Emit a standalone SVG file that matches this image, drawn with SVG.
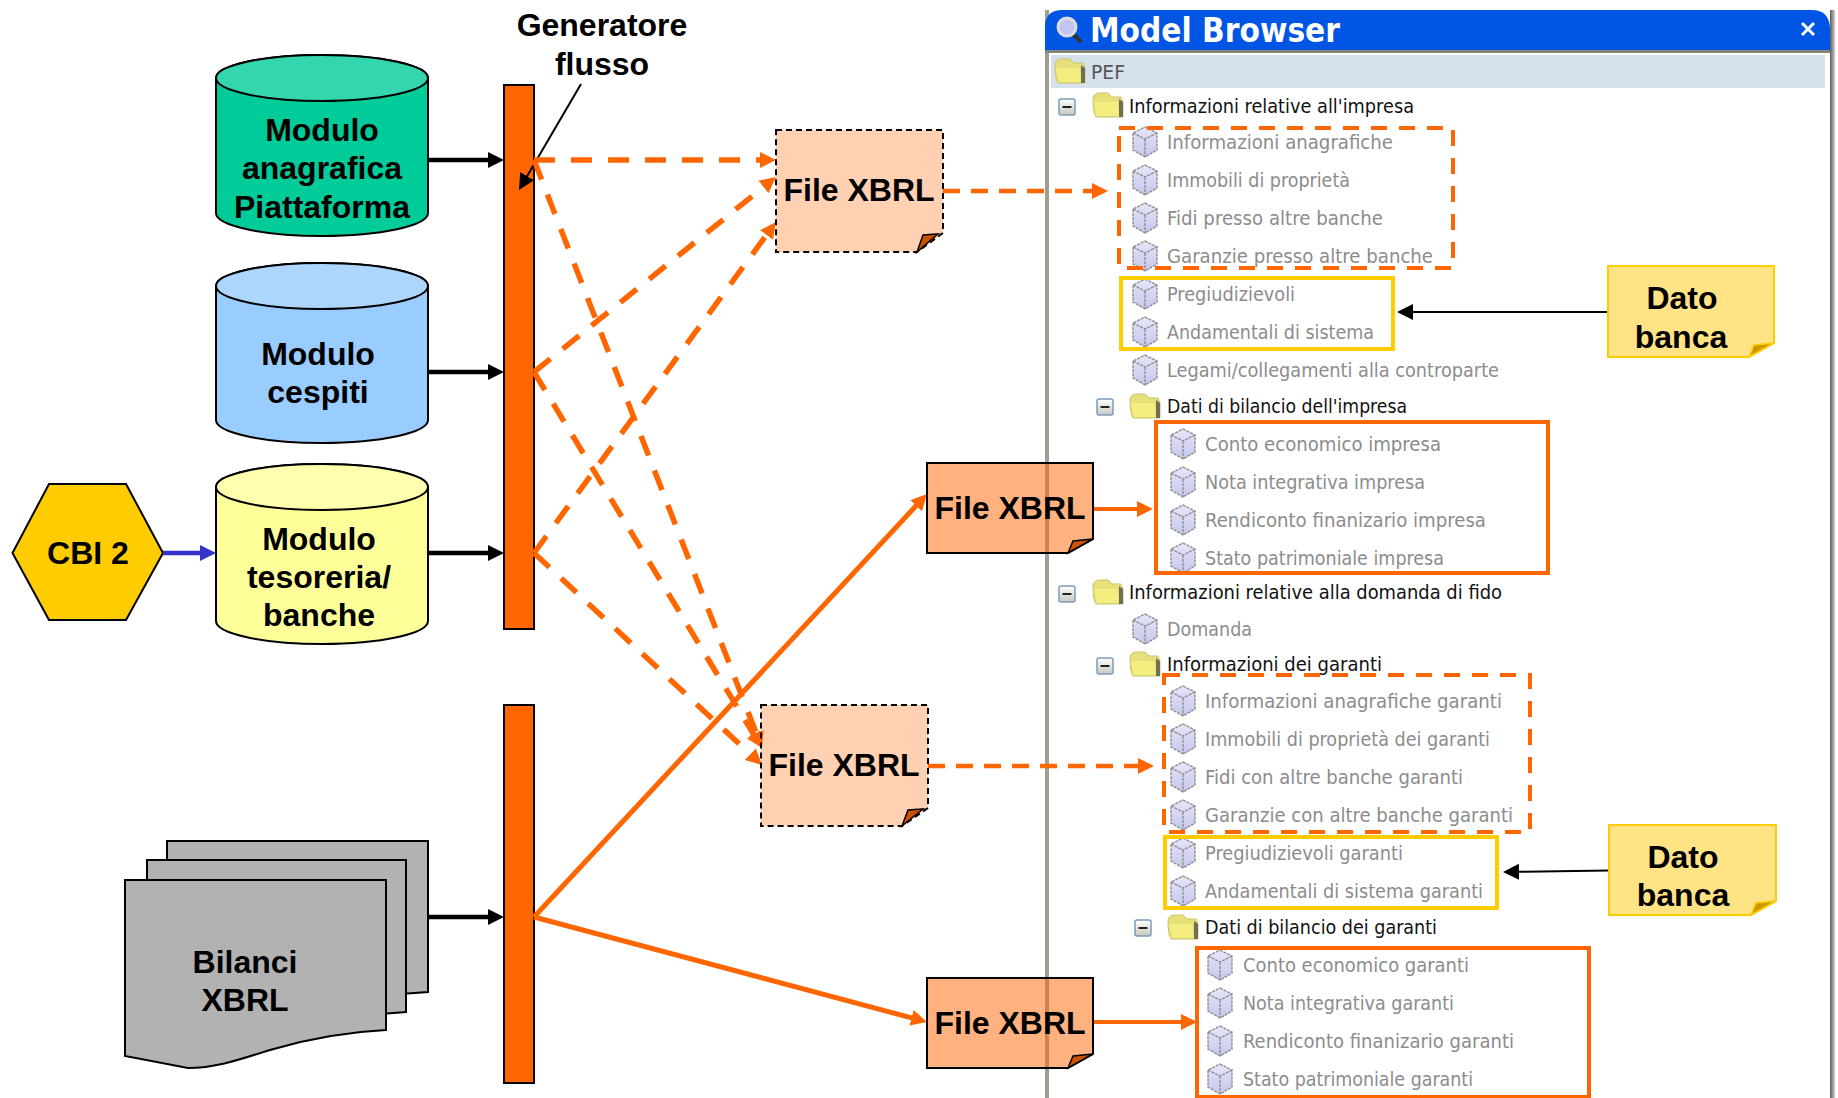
<svg xmlns="http://www.w3.org/2000/svg" width="1838" height="1098" viewBox="0 0 1838 1098">
<style>
.b{font:bold 32px "Liberation Sans",Arial,sans-serif;fill:#000;text-anchor:middle}
.t{font:20px "DejaVu Sans Condensed","DejaVu Sans",sans-serif;fill:#8c8c8c}
.k{fill:#111}
.s{stroke:#000;stroke-width:2}
.or{fill:none;stroke:#FF6600;stroke-width:5.5;stroke-dasharray:21 16}
.os{fill:none;stroke:#FF6600}
.ar{fill:none;stroke:#000;stroke-width:4.5}
.bar{fill:#FF6600;stroke:#000;stroke-width:2}
.fd{fill:#FF6600;fill-opacity:.3;stroke:#000;stroke-width:2;stroke-dasharray:6 4}
.fs{fill:#FF6600;fill-opacity:.5;stroke:#000;stroke-width:2}
.fold{fill:#CC5200;stroke:#000;stroke-width:1.5}
.db{fill:#FFE384;stroke:#FFCC00;stroke-width:2}
.dbf{fill:#CC9900;stroke:#FFCC00;stroke-width:1.5}
.dash{fill:none;stroke:#FF6600;stroke-width:4;stroke-dasharray:16 12}
.sol{fill:none;stroke:#FF6600;stroke-width:4}
.yel{fill:none;stroke:#FFCC00;stroke-width:4}
</style>
<defs>
<marker id="mo" markerUnits="userSpaceOnUse" markerWidth="17" markerHeight="17" refX="1" refY="8.5" orient="auto"><path d="M0,0.5 L16,8.5 L0,16.5Z" fill="#FF6600"/></marker>
<marker id="mk" markerUnits="userSpaceOnUse" markerWidth="17" markerHeight="17" refX="1" refY="8.5" orient="auto"><path d="M0,0.5 L16,8.5 L0,16.5Z" fill="#000"/></marker>
<marker id="mb" markerUnits="userSpaceOnUse" markerWidth="17" markerHeight="17" refX="1" refY="8.5" orient="auto"><path d="M0,0.5 L16,8.5 L0,16.5Z" fill="#3333CC"/></marker>
<linearGradient id="cg" x1="0" y1="0" x2="0" y2="1"><stop offset="0" stop-color="#E6E6FA"/><stop offset="1" stop-color="#C6C6EC"/></linearGradient>
<linearGradient id="mg" x1="0" y1="0" x2="0" y2="1"><stop offset="0" stop-color="#FFFFFF"/><stop offset="1" stop-color="#C8C8C0"/></linearGradient>
<linearGradient id="rg" x1="0" y1="0" x2="1" y2="0"><stop offset="0" stop-color="#5a5a5a"/><stop offset="1" stop-color="#d0d0d0"/></linearGradient>
<g id="cube" fill="none" stroke="#8f8f8f" stroke-width="1.4" stroke-dasharray="3 1">
<path d="M0,-15 L12,-9 V8 L0,15 L-12,8 V-9Z" fill="url(#cg)"/>
<path d="M-12,-9 L0,-3 L12,-9 M0,-3 V15"/>
</g>
<g id="folder">
<path d="M-15,-7 Q-14,-12 -8,-12 H0 L4,-8 H13 L15,-3 V12 H-12 Q-15,8 -15,-7Z" fill="#E6E07A" stroke="#C9C46A" stroke-width="1"/>
<path d="M-14,-3 H9 L11,11 H-11Z" fill="#F4EE80"/>
<path d="M11,-6 L15,-3 V12 H11Z" fill="#6f6f58"/>
</g>
<g id="minus">
<rect x="-8" y="-8" width="16" height="16" rx="2" fill="url(#mg)" stroke="#7C9CBC" stroke-width="1.5"/>
<path d="M-4.500,0 H4.500" stroke="#222" stroke-width="2"/>
</g>
</defs>
<rect width="1838" height="1098" fill="#fff"/>

<g id="model-browser">
<rect x="1045" y="10" width="4" height="1088" fill="#A09E90"/>
<rect x="1830" y="10" width="5" height="1088" fill="url(#rg)"/>
<path d="M1045,50 V24 Q1047,10 1062,10 H1812 Q1829,10 1830,28 V50Z" fill="#0055E5"/>
<rect x="1045" y="50" width="785" height="3" fill="#85857a"/>
<rect x="1051" y="55" width="774" height="33" fill="#D7E1ED"/>
<g id="magnifier"><path d="M1073,34 L1081,42" stroke="#333" stroke-width="4"/><circle cx="1067" cy="27" r="9" fill="#C4C4F0" stroke="#DDD" stroke-width="3"/></g>
<text x="1090" y="42" textLength="250" lengthAdjust="spacingAndGlyphs" style="font:bold 34px 'DejaVu Sans Condensed','DejaVu Sans',sans-serif;fill:#fff">Model Browser</text>
<path d="M1802,23 L1814,35 M1814,23 L1802,35" stroke="#fff" stroke-width="3" fill="none"/>
</g>

<g id="tree">
<g id="n-pef"><use href="#folder" x="1070" y="71"/><text class="t" x="1091" y="79" textLength="34" lengthAdjust="spacingAndGlyphs" style="fill:#555">PEF</text></g>
<g id="n-imp"><use href="#minus" x="1067" y="107"/><use href="#folder" x="1108" y="105"/><text class="t k" x="1129" y="113" textLength="285" lengthAdjust="spacingAndGlyphs">Informazioni relative all'impresa</text></g>
<g id="n1"><use href="#cube" x="1145" y="142"/><text class="t" x="1167" y="149" textLength="226" lengthAdjust="spacingAndGlyphs">Informazioni anagrafiche</text></g>
<g id="n2"><use href="#cube" x="1145" y="180"/><text class="t" x="1167" y="187" textLength="183" lengthAdjust="spacingAndGlyphs">Immobili di proprietà</text></g>
<g id="n3"><use href="#cube" x="1145" y="218"/><text class="t" x="1167" y="225" textLength="216" lengthAdjust="spacingAndGlyphs">Fidi presso altre banche</text></g>
<g id="n4"><use href="#cube" x="1145" y="256"/><text class="t" x="1167" y="263" textLength="266" lengthAdjust="spacingAndGlyphs">Garanzie presso altre banche</text></g>
<g id="n5"><use href="#cube" x="1145" y="294"/><text class="t" x="1167" y="301" textLength="128" lengthAdjust="spacingAndGlyphs">Pregiudizievoli</text></g>
<g id="n6"><use href="#cube" x="1145" y="332"/><text class="t" x="1167" y="339" textLength="207" lengthAdjust="spacingAndGlyphs">Andamentali di sistema</text></g>
<g id="n7"><use href="#cube" x="1145" y="370"/><text class="t" x="1167" y="377" textLength="332" lengthAdjust="spacingAndGlyphs">Legami/collegamenti alla controparte</text></g>
<g id="n-bil"><use href="#minus" x="1105" y="407"/><use href="#folder" x="1145" y="406"/><text class="t k" x="1167" y="413" textLength="240" lengthAdjust="spacingAndGlyphs">Dati di bilancio dell'impresa</text></g>
<g id="n8"><use href="#cube" x="1183" y="444"/><text class="t" x="1205" y="451" textLength="236" lengthAdjust="spacingAndGlyphs">Conto economico impresa</text></g>
<g id="n9"><use href="#cube" x="1183" y="482"/><text class="t" x="1205" y="489" textLength="220" lengthAdjust="spacingAndGlyphs">Nota integrativa impresa</text></g>
<g id="n10"><use href="#cube" x="1183" y="520"/><text class="t" x="1205" y="527" textLength="281" lengthAdjust="spacingAndGlyphs">Rendiconto finanizario impresa</text></g>
<g id="n11"><use href="#cube" x="1183" y="558"/><text class="t" x="1205" y="565" textLength="239" lengthAdjust="spacingAndGlyphs">Stato patrimoniale impresa</text></g>
<g id="n-dom"><use href="#minus" x="1067" y="594"/><use href="#folder" x="1108" y="592"/><text class="t k" x="1129" y="599" textLength="373" lengthAdjust="spacingAndGlyphs">Informazioni relative alla domanda di fido</text></g>
<g id="n12"><use href="#cube" x="1145" y="629"/><text class="t" x="1167" y="636" textLength="85" lengthAdjust="spacingAndGlyphs">Domanda</text></g>
<g id="n-gar"><use href="#minus" x="1105" y="666"/><use href="#folder" x="1145" y="664"/><text class="t k" x="1167" y="671" textLength="215" lengthAdjust="spacingAndGlyphs">Informazioni dei garanti</text></g>
<g id="n13"><use href="#cube" x="1183" y="701"/><text class="t" x="1205" y="708" textLength="297" lengthAdjust="spacingAndGlyphs">Informazioni anagrafiche garanti</text></g>
<g id="n14"><use href="#cube" x="1183" y="739"/><text class="t" x="1205" y="746" textLength="285" lengthAdjust="spacingAndGlyphs">Immobili di proprietà dei garanti</text></g>
<g id="n15"><use href="#cube" x="1183" y="777"/><text class="t" x="1205" y="784" textLength="258" lengthAdjust="spacingAndGlyphs">Fidi con altre banche garanti</text></g>
<g id="n16"><use href="#cube" x="1183" y="815"/><text class="t" x="1205" y="822" textLength="308" lengthAdjust="spacingAndGlyphs">Garanzie con altre banche garanti</text></g>
<g id="n17"><use href="#cube" x="1183" y="853"/><text class="t" x="1205" y="860" textLength="198" lengthAdjust="spacingAndGlyphs">Pregiudizievoli garanti</text></g>
<g id="n18"><use href="#cube" x="1183" y="891"/><text class="t" x="1205" y="898" textLength="278" lengthAdjust="spacingAndGlyphs">Andamentali di sistema garanti</text></g>
<g id="n-bg"><use href="#minus" x="1143" y="928"/><use href="#folder" x="1183" y="927"/><text class="t k" x="1205" y="934" textLength="232" lengthAdjust="spacingAndGlyphs">Dati di bilancio dei garanti</text></g>
<g id="n19"><use href="#cube" x="1220" y="965"/><text class="t" x="1243" y="972" textLength="226" lengthAdjust="spacingAndGlyphs">Conto economico garanti</text></g>
<g id="n20"><use href="#cube" x="1220" y="1003"/><text class="t" x="1243" y="1010" textLength="211" lengthAdjust="spacingAndGlyphs">Nota integrativa garanti</text></g>
<g id="n21"><use href="#cube" x="1220" y="1041"/><text class="t" x="1243" y="1048" textLength="271" lengthAdjust="spacingAndGlyphs">Rendiconto finanizario garanti</text></g>
<g id="n22"><use href="#cube" x="1220" y="1079"/><text class="t" x="1243" y="1086" textLength="230" lengthAdjust="spacingAndGlyphs">Stato patrimoniale garanti</text></g>
</g>

<g id="highlight-boxes">
<rect class="dash" x="1119" y="128" width="334" height="140"/>
<rect class="yel" x="1121" y="278" width="272" height="71"/>
<rect class="sol" x="1156" y="422" width="392" height="151"/>
<rect class="dash" x="1164" y="675" width="366" height="157"/>
<rect class="yel" x="1165" y="837" width="332" height="71"/>
<rect class="sol" x="1197" y="948" width="392" height="149"/>
</g>

<g id="db-green"><path class="s" fill="#00CC99" d="M216,78 A106,23 0 0 1 428,78 V213 A106,23 0 0 1 216,213Z"/><ellipse class="s" fill="#33D6AD" cx="322" cy="78" rx="106" ry="23"/><text class="b" x="322" y="141">Modulo</text><text class="b" x="322" y="179">anagrafica</text><text class="b" x="322" y="218">Piattaforma</text></g>
<g id="db-blue"><path class="s" fill="#99CCFF" d="M216,286 A106,23 0 0 1 428,286 V420 A106,23 0 0 1 216,420Z"/><ellipse class="s" fill="#ADD6FF" cx="322" cy="286" rx="106" ry="23"/><text class="b" x="318" y="365">Modulo</text><text class="b" x="318" y="403">cespiti</text></g>
<g id="db-yellow"><path class="s" fill="#FFFF99" d="M216,487 A106,23 0 0 1 428,487 V621 A106,23 0 0 1 216,621Z"/><ellipse class="s" fill="#FFFFAD" cx="322" cy="487" rx="106" ry="23"/><text class="b" x="319" y="550">Modulo</text><text class="b" x="319" y="588">tesoreria/</text><text class="b" x="319" y="626">banche</text></g>
<g id="cbi2"><path class="s" fill="#FFCC00" d="M12.500,553 L49,484 H126 L163,553 L126,620 H49Z"/><text class="b" x="88" y="564">CBI 2</text></g>
<g id="bilanci">
<path class="s" fill="#B2B2B2" d="M167,841 H428 V992 L400,994 H167Z"/>
<path class="s" fill="#B2B2B2" d="M147,860 H406 V1012 L380,1014 H147Z"/>
<path class="s" fill="#B2B2B2" d="M125,880 H386 V1030 C345,1032 310,1038 270,1050 C235,1061 215,1068 188,1068 L125,1056Z"/>
<text class="b" x="245" y="973">Bilanci</text><text class="b" x="245" y="1011">XBRL</text>
</g>
<g id="bar1"><rect class="bar" x="504" y="85" width="30" height="544"/></g>
<g id="bar2"><rect class="bar" x="504" y="705" width="30" height="378"/></g>
<g id="label-generatore"><text class="b" x="602" y="36">Generatore</text><text class="b" x="602" y="75">flusso</text></g>

<g id="connectors">
<path class="ar" d="M428,160 H489" marker-end="url(#mk)"/>
<path class="ar" d="M428,372 H489" marker-end="url(#mk)"/>
<path class="ar" d="M428,553 H489" marker-end="url(#mk)"/>
<path class="ar" d="M428,917 H489" marker-end="url(#mk)"/>
<path d="M163,553 H201" fill="none" stroke="#3333CC" stroke-width="4.500" marker-end="url(#mb)"/>
<path d="M581,84 L526.600,177" fill="none" stroke="#000" stroke-width="2" marker-end="url(#mk)"/>
<path class="or" d="M534,160 H761" marker-end="url(#mo)"/>
<path class="or" d="M534,160 L756.600,734" marker-end="url(#mo)"/>
<path class="or" d="M534,372 L764.300,186.400" marker-end="url(#mo)"/>
<path class="or" d="M534,372 L754.200,735.200" marker-end="url(#mo)"/>
<path class="or" d="M534,553 L767.100,234.100" marker-end="url(#mo)"/>
<path class="or" d="M534,553 L751,754.800" marker-end="url(#mo)"/>
<path class="os" stroke-width="5" d="M534,917 L916.800,505" marker-end="url(#mo)"/>
<path class="os" stroke-width="5" d="M534,917 L912.500,1018.100" marker-end="url(#mo)"/>
<path class="or" d="M943,191 H1093" style="stroke-width:4.500;stroke-dasharray:17 11" marker-end="url(#mo)"/>
<path class="or" d="M928,766 H1139" style="stroke-width:4.500;stroke-dasharray:17 11" marker-end="url(#mo)"/>
<path class="os" stroke-width="4" d="M1093,509 H1138" marker-end="url(#mo)"/>
<path class="os" stroke-width="4" d="M1093,1022 H1182" marker-end="url(#mo)"/>
<path d="M1607,312 H1412" fill="none" stroke="#000" stroke-width="2" marker-end="url(#mk)"/>
<path d="M1609,870.500 L1518,871.800" fill="none" stroke="#000" stroke-width="2" marker-end="url(#mk)"/>
</g>

<g id="file1"><path class="fd" d="M776,130 H943 V233 L917,252 H776Z"/><path class="fold" d="M917,252 L923,235 L938,234Z"/><text class="b" x="859" y="201">File XBRL</text></g>
<g id="file2"><path class="fd" d="M761,705 H928 V808 L902,826 H761Z"/><path class="fold" d="M902,826 L908,810 L923,809Z"/><text class="b" x="844" y="776">File XBRL</text></g>
<g id="file3"><path class="fs" d="M927,463 H1093 V539 L1068,553 H927Z"/><path class="fold" d="M1068,553 L1073,541 L1093,539Z"/><text class="b" x="1010" y="519">File XBRL</text></g>
<g id="file4"><path class="fs" d="M927,978 H1093 V1054 L1068,1068 H927Z"/><path class="fold" d="M1068,1068 L1073,1056 L1093,1054Z"/><text class="b" x="1010" y="1034">File XBRL</text></g>
<g id="dato1"><path class="db" d="M1608,266 H1774 V343 L1749,357 H1608Z"/><path class="dbf" d="M1749,357 L1754,345 L1774,343Z"/><text class="b" x="1682" y="309">Dato</text><text class="b" x="1681" y="348">banca</text></g>
<g id="dato2"><path class="db" d="M1609,825 H1776 V901 L1751,915 H1609Z"/><path class="dbf" d="M1751,915 L1756,903 L1776,901Z"/><text class="b" x="1683" y="868">Dato</text><text class="b" x="1683" y="906">banca</text></g>
</svg>
